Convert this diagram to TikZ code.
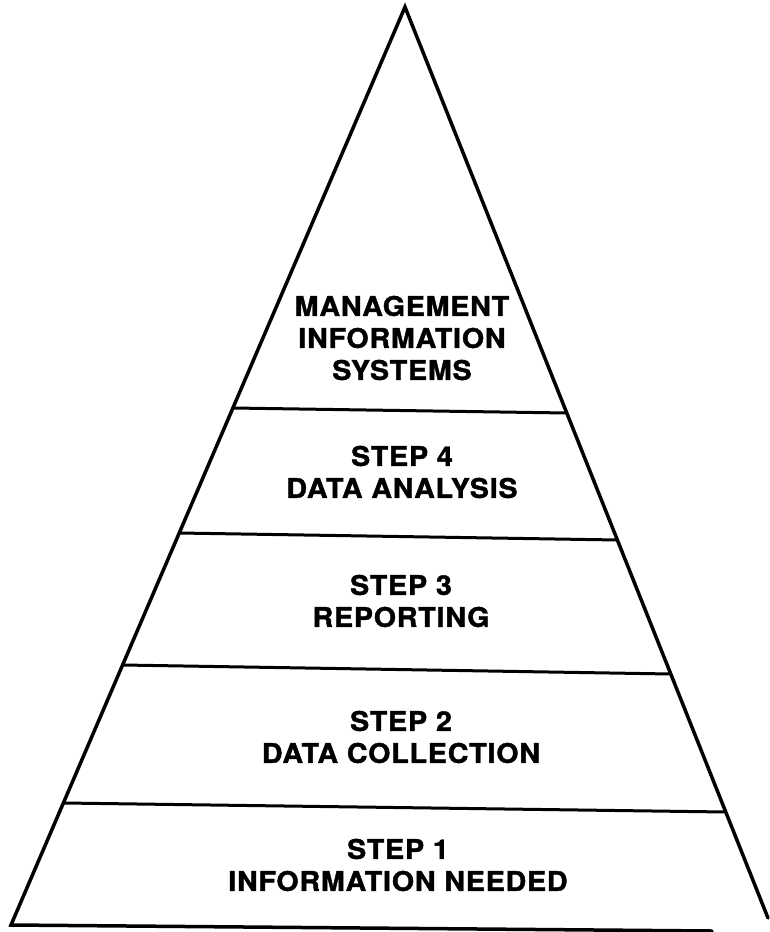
\documentclass[tikz,border=0pt]{standalone}
\usepackage{fontspec}
\setmainfont{TeX Gyre Heros}[FakeStretch=1.06, LetterSpace=3, FakeBold=1.5]

\begin{document}
\begin{tikzpicture}[x=1pt, y=-1pt,
    edge/.style={line width=3.5pt, line join=miter, line cap=round},
    band/.style={line width=3pt},
    lbl/.style={font=\bfseries\fontsize{27}{32}\selectfont, align=center, inner sep=0pt}]
  \useasboundingbox (0,0) rectangle (769,932);

  % pyramid outline
  \coordinate (apex) at (405,7);
  \coordinate (bl) at (11,925);
  \coordinate (br) at (768,918);
  \coordinate (be) at (712,931);
  \draw[edge] (br) -- (apex) -- (bl) -- (be);

  % dividing lines
  \coordinate (l1) at (233,408);  \coordinate (r1) at (567,413);
  \coordinate (l2) at (179,533);  \coordinate (r2) at (618,540);
  \coordinate (l3) at (123,665);  \coordinate (r3) at (671,674);
  \coordinate (l4) at (64,803);   \coordinate (r4) at (726,812);
  \draw[band] (l1) -- (r1);
  \draw[band] (l2) -- (r2);
  \draw[band] (l3) -- (r3);
  \draw[band] (l4) -- (r4);

  % labels
  \node[lbl] (mis) at (402,338) {MANAGEMENT\\INFORMATION\\SYSTEMS};
  \node[lbl] (step4) at (402,472) {STEP 4\\DATA ANALYSIS};
  \node[lbl] (step3) at (401,601) {STEP 3\\REPORTING};
  \node[lbl] (step2) at (401,737) {STEP 2\\DATA COLLECTION};
  \node[lbl] (step1) at (398,865) {STEP 1\\INFORMATION NEEDED};
\end{tikzpicture}
\end{document}
